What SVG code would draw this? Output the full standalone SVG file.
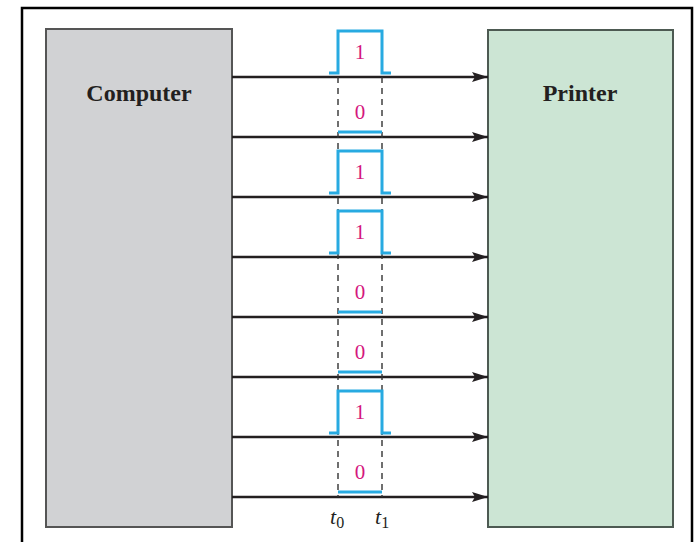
<svg xmlns="http://www.w3.org/2000/svg" width="697" height="542" viewBox="0 0 697 542">
<style>
.box{stroke-width:2}
.lbl{font-family:"Liberation Serif",serif;font-weight:bold;font-size:24px;fill:#231f20;text-anchor:middle}
.bit{font-family:"Liberation Serif",serif;font-size:21px;fill:#d4177e;text-anchor:middle}
.tl{font-family:"Liberation Serif",serif;font-style:italic;font-size:22px;fill:#231f20}
.sub{font-style:normal;font-size:16px}
.wire{stroke:#231f20;stroke-width:2.7;fill:none;marker-end:url(#ah)}
.pulse{stroke:#27aae1;stroke-width:3;fill:none}
.guide{stroke:#333;stroke-width:1.4;stroke-dasharray:6 5;fill:none}
</style>
<defs>
<marker id="ah" markerWidth="17" markerHeight="11" refX="16" refY="5.5" orient="auto" markerUnits="userSpaceOnUse">
<path d="M0,0.5 L16,5.5 L0,10.5 L3,5.5 Z" fill="#231f20"/>
</marker>
</defs>
<rect x="0" y="0" width="697" height="542" fill="#fff"/>
<rect x="22" y="8" width="670" height="540" fill="none" stroke="#000" stroke-width="2.5"/>
<g id="computer">
<rect class="box" x="46" y="29" width="186" height="498" fill="#d1d2d4" stroke="#555"/>
<text class="lbl" x="139" y="101">Computer</text>
</g>
<g id="printer">
<rect class="box" x="488" y="30" width="185" height="497" fill="#cce5d4" stroke="#4d5a52"/>
<text class="lbl" x="580" y="101">Printer</text>
</g>
<g id="connectors">
<path class="wire" d="M232,77 H488"/>
<path class="wire" d="M232,137 H488"/>
<path class="wire" d="M232,197 H488"/>
<path class="wire" d="M232,257 H488"/>
<path class="wire" d="M232,317 H488"/>
<path class="wire" d="M232,377 H488"/>
<path class="wire" d="M232,437 H488"/>
<path class="wire" d="M232,497 H488"/>
</g>
<g id="timing">
<path class="guide" d="M338,77 V497 M382,77 V497"/>
<path class="pulse" d="M329,73 H338 V31 H382 V73 H391"/>
<path class="pulse" d="M338,132 H382"/>
<path class="pulse" d="M329,193 H338 V151 H382 V193 H391"/>
<path class="pulse" d="M329,253 H338 V211 H382 V253 H391"/>
<path class="pulse" d="M338,312 H382"/>
<path class="pulse" d="M338,372 H382"/>
<path class="pulse" d="M329,433 H338 V391 H382 V433 H391"/>
<path class="pulse" d="M338,492 H382"/>
<text class="bit" x="360" y="59">1</text>
<text class="bit" x="360" y="119">0</text>
<text class="bit" x="360" y="179">1</text>
<text class="bit" x="360" y="239">1</text>
<text class="bit" x="360" y="299">0</text>
<text class="bit" x="360" y="359">0</text>
<text class="bit" x="360" y="419">1</text>
<text class="bit" x="360" y="479">0</text>
<text class="tl" x="330" y="524">t<tspan class="sub" dy="4">0</tspan></text>
<text class="tl" x="375" y="524">t<tspan class="sub" dy="4">1</tspan></text>
</g>
</svg>
